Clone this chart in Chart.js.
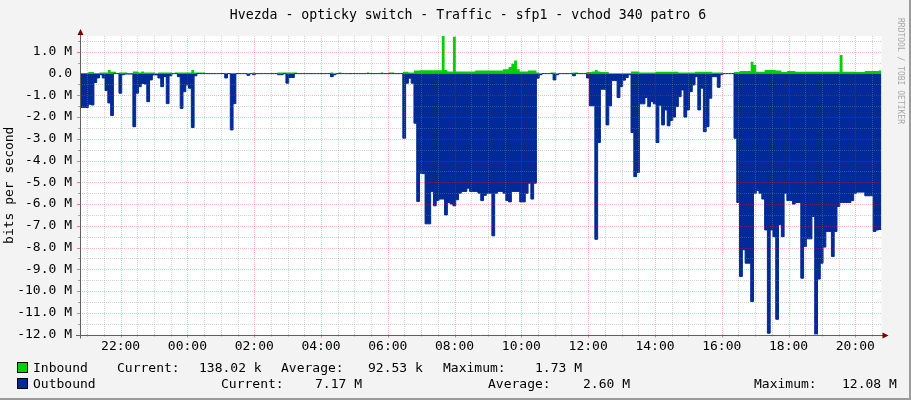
<!DOCTYPE html>
<html>
<head>
<meta charset="utf-8">
<title>Hvezda - opticky switch - Traffic</title>
<script src="https://cdn.jsdelivr.net/npm/chart.js@4/dist/chart.umd.min.js"></script>
<style>
  html, body { margin: 0; padding: 0; background: #f3f3f3; }
  #graph { display: block; }
</style>
</head>
<body>
<canvas id="graph" width="911" height="400"></canvas>
<script>
// 5 minute samples, in Mbit/s
const startTime = '20:47';
const sampleMinutes = 5;

const inboundMbps = [
  0.03, 0.03, 0.03, 0.07, 0.07, 0.02, 0.02, 0.05, 0.05, 0.05, 0.17, 0.08,
  0.08, 0.02, 0.05, 0.05, 0.05, 0, 0, 0.1, 0.1, 0.05, 0.1, 0.05,
  0.05, 0.05, 0.05, 0, 0.05, 0.05, 0.05, 0.05, 0.05, 0, 0.05, 0.05,
  0.05, 0.05, 0.05, 0.05, 0.17, 0.05, 0.05, 0.05, 0.05, 0, 0, 0,
  0, 0, 0, 0.03, 0.03, 0.03, 0.03, 0.03, 0.03, 0, 0, 0,
  0, 0, 0.05, 0, 0, 0, 0, 0, 0, 0, 0, 0.05,
  0.05, 0.05, 0.05, 0.05, 0.05, 0.05, 0, 0, 0, 0, 0, 0,
  0, 0, 0, 0, 0, 0, 0.05, 0, 0, 0.05, 0, 0,
  0, 0, 0, 0, 0, 0, 0, 0.05, 0, 0, 0, 0,
  0.05, 0, 0, 0.05, 0.05, 0, 0, 0, 0.09, 0.09, 0.05, 0.05,
  0.14, 0.14, 0.15, 0.15, 0.15, 0.15, 0.15, 0.15, 0.15, 0.15, 1.73, 0.17,
  0.1, 0.1, 1.7, 0.1, 0.1, 0.1, 0.1, 0.1, 0.1, 0.1, 0.14, 0.14,
  0.14, 0.14, 0.14, 0.14, 0.14, 0.14, 0.14, 0.14, 0.2, 0.2, 0.3, 0.45,
  0.6, 0.2, 0.1, 0.1, 0.1, 0.14, 0.14, 0.14, 0.05, 0, 0, 0,
  0, 0.05, 0.05, 0, 0, 0, 0, 0, 0, 0.05, 0.05, 0,
  0, 0, 0.07, 0.07, 0.1, 0.17, 0.1, 0.07, 0.07, 0.07, 0, 0,
  0, 0, 0, 0, 0, 0, 0.1, 0.1, 0.1, 0.05, 0.05, 0.05,
  0.05, 0.05, 0.05, 0.09, 0.09, 0.09, 0.09, 0.09, 0.09, 0.09, 0.09, 0.05,
  0.05, 0.05, 0.05, 0.05, 0.05, 0.09, 0.09, 0.09, 0.09, 0.09, 0.09, 0.05,
  0.05, 0.05, 0.05, 0, 0, 0, 0, 0.07, 0.07, 0.12, 0.12, 0.12,
  0.12, 0.55, 0.4, 0.09, 0.09, 0.09, 0.17, 0.17, 0.17, 0.17, 0.14, 0.14,
  0.07, 0.07, 0.12, 0.12, 0.12, 0.09, 0.09, 0.09, 0.09, 0.09, 0.09, 0.09,
  0.09, 0.09, 0.09, 0.09, 0.09, 0.09, 0.09, 0.09, 0.09, 0.86, 0.09, 0.09,
  0.09, 0.09, 0.09, 0.07, 0.07, 0.07, 0.12, 0.12, 0.12, 0.12, 0.12, 0.138
];

const outboundMbps = [
  1.56, 1.56, 1.56, 1.41, 1.44, 0.41, 0.2, 0.05, 0.2, 0.78, 1.35, 1.93,
  0, 0, 0.9, 0.05, 0.02, 0.02, 0.02, 2.44, 0.9, 0.6, 0.45, 0.48,
  1.29, 0.29, 0.06, 0.06, 0.2, 0.6, 0.14, 1.38, 0.1, 0, 0, 0.14,
  1.6, 0.83, 0.52, 0.67, 2.48, 0.1, 0, 0, 0, 0, 0, 0,
  0, 0, 0, 0, 0.2, 0, 2.59, 1.38, 0, 0, 0, 0,
  0.08, 0, 0.05, 0, 0, 0, 0, 0, 0, 0, 0, 0.05,
  0.05, 0, 0.44, 0.18, 0.18, 0, 0, 0, 0, 0, 0, 0,
  0, 0, 0, 0, 0, 0, 0.14, 0.05, 0, 0, 0, 0,
  0, 0, 0, 0, 0, 0, 0, 0, 0, 0, 0, 0,
  0, 0, 0, 0, 0, 0, 0, 0, 2.97, 0.44, 0.21, 0.44,
  2.28, 5.88, 4.58, 4.6, 6.91, 6.91, 5.42, 6.08, 5.84, 5.77, 5.77, 6.5,
  5.93, 6.0, 6.08, 5.8, 5.5, 5.42, 5.42, 5.27, 5.42, 5.42, 5.42, 5.5,
  5.84, 5.6, 5.5, 5.5, 7.46, 5.5, 5.42, 5.42, 5.5, 5.84, 5.9, 5.42,
  5.42, 5.42, 5.9, 5.9, 5.5, 5.04, 5.77, 5.04, 0.21, 0.05, 0, 0,
  0, 0, 0.29, 0.05, 0, 0, 0, 0, 0, 0.1, 0, 0,
  0, 0, 0.2, 1.48, 1.48, 7.62, 3.17, 0.72, 0.72, 2.36, 1.48, 0.32,
  0.32, 1.1, 0.6, 0.3, 0.18, 0.05, 2.71, 4.74, 4.55, 1.39, 1.39, 1.1,
  1.52, 1.29, 1.39, 3.17, 1.45, 2.36, 1.67, 2.4, 2.16, 2.0, 1.52, 1.06,
  0.75, 2.0, 1.67, 0.83, 0.52, 0.14, 1.67, 0.67, 2.67, 2.44, 1.13, 0.14,
  0.14, 0.63, 0.05, 0, 0, 0, 0, 2.97, 5.93, 9.33, 8.1, 8.72,
  8.72, 10.48, 5.5, 5.38, 5.5, 5.77, 7.19, 11.94, 7.19, 7.5, 11.3, 6.95,
  7.5, 5.5, 5.84, 5.84, 6.0, 5.93, 5.93, 9.41, 7.95, 7.6, 7.6, 6.57,
  12.08, 9.45, 8.72, 7.98, 7.26, 7.26, 8.41, 7.26, 6.11, 5.93, 5.93, 5.93,
  5.93, 5.84, 5.5, 5.45, 5.45, 5.45, 5.62, 5.62, 5.62, 7.26, 7.19, 7.17
];

const timeLabels = ['22:00', '00:00', '02:00', '04:00', '06:00', '08:00',
  '10:00', '12:00', '14:00', '16:00', '18:00', '20:00'];
const valueTicks = [1, 0, -1, -2, -3, -4, -5, -6, -7, -8, -9, -10, -11, -12];

const inboundLegend = ['Inbound', 'Current:', '138.02 k', 'Average:', '92.53 k', 'Maximum:', '1.73 M'];
const outboundLegend = ['Outbound', 'Current:', '7.17 M', 'Average:', '2.60 M', 'Maximum:', '12.08 M'];

const titleText = 'Hvezda - opticky switch - Traffic - sfp1 - vchod 340 patro 6';
const axisTitle = 'bits per second';
const watermark = 'RRDTOOL / TOBI OETIKER';

const FONT = '"DejaVu Sans Mono", monospace';
const IN_COLOR = '#00cf00';
const OUT_COLOR = '#002a97';

function toMinutes(hhmm) {
  const parts = hhmm.split(':');
  return parseInt(parts[0], 10) * 60 + parseInt(parts[1], 10);
}

const startMin = toMinutes(startTime);
const endMin = startMin + inboundMbps.length * sampleMinutes;

function clockPos(label) {
  let m = toMinutes(label);
  if (m < startMin) m += 1440;
  return m;
}

function toPoints(values, sign) {
  const pts = values.map((v, i) => ({ x: startMin + i * sampleMinutes, y: sign * v }));
  // last sample is held until the right edge
  pts.push({ x: endMin, y: sign * values[values.length - 1] });
  return pts;
}

function dotted(ctx, x1, y1, x2, y2, color) {
  ctx.strokeStyle = color;
  ctx.setLineDash([1, 1]);
  ctx.beginPath();
  ctx.moveTo(x1, y1);
  ctx.lineTo(x2, y2);
  ctx.stroke();
}

function solid(ctx, x1, y1, x2, y2, color) {
  ctx.strokeStyle = color;
  ctx.setLineDash([]);
  ctx.beginPath();
  ctx.moveTo(x1, y1);
  ctx.lineTo(x2, y2);
  ctx.stroke();
}

const rrdFrame = {
  id: 'rrdFrame',
  beforeDraw(chart) {
    const ctx = chart.ctx;
    const a = chart.chartArea;
    ctx.save();
    ctx.fillStyle = '#f3f3f3';
    ctx.fillRect(0, 0, chart.width, chart.height);
    ctx.fillStyle = '#9b9b9b';
    ctx.fillRect(chart.width - 2, 0, 2, chart.height);
    ctx.fillRect(0, chart.height - 2, chart.width, 2);
    ctx.fillStyle = '#ffffff';
    ctx.fillRect(a.left, a.top, a.right - a.left, a.bottom - a.top);
    ctx.restore();
  },
  afterDatasetsDraw(chart) {
    const ctx = chart.ctx;
    const a = chart.chartArea;
    const xs = chart.scales.x;
    const ys = chart.scales.y;
    const minorCol = 'rgba(140,140,140,0.38)';
    const majorCol = 'rgba(240,40,40,0.32)';
    ctx.save();
    ctx.lineWidth = 1;

    // vertical grid, every 30 minutes, major every 2 hours
    for (let m = Math.ceil(xs.min / 30) * 30; m <= xs.max; m += 30) {
      const px = Math.round(xs.getPixelForValue(m)) + 0.5;
      const major = m % 120 === 0;
      dotted(ctx, px, a.top, px, a.bottom, major ? majorCol : minorCol);
      solid(ctx, px, a.bottom, px, a.bottom + (major ? 3 : 2), major ? '#e08080' : '#a0a0a0');
    }
    // horizontal grid, every 0.5 M, major every 1 M
    for (let k = Math.ceil(ys.min * 2); k <= Math.floor(ys.max * 2); k++) {
      const py = Math.round(ys.getPixelForValue(k / 2)) + 0.5;
      const major = k % 2 === 0;
      if (k === 0) continue;
      dotted(ctx, a.left, py, a.right, py, major ? majorCol : minorCol);
      solid(ctx, a.left - (major ? 3 : 2), py, a.left, py, major ? '#e08080' : '#a0a0a0');
    }

    // axes with arrows
    const bx = a.left + 0.5;
    const by = Math.round(a.bottom) + 0.5;
    solid(ctx, a.left - 4, by, a.right + 3, by, '#606060');
    solid(ctx, bx, by + 3, bx, a.top - 3, '#606060');
    ctx.fillStyle = '#7f0000';
    ctx.beginPath();
    ctx.moveTo(a.right + 7, by);
    ctx.lineTo(a.right + 1, by - 3);
    ctx.lineTo(a.right + 1, by + 3);
    ctx.closePath();
    ctx.fill();
    ctx.beginPath();
    ctx.moveTo(bx, a.top - 7);
    ctx.lineTo(bx - 3, a.top - 1);
    ctx.lineTo(bx + 3, a.top - 1);
    ctx.closePath();
    ctx.fill();
    ctx.restore();
  },
  afterDraw(chart) {
    const ctx = chart.ctx;
    ctx.save();
    ctx.fillStyle = '#000000';
    ctx.font = '13.2px ' + FONT;
    ctx.textBaseline = 'alphabetic';
    ctx.textAlign = 'center';
    ctx.fillText(titleText, 468, 19);

    // legend
    ctx.font = '13px ' + FONT;
    ctx.textAlign = 'left';
    const rows = [
      { items: inboundLegend, color: IN_COLOR, y: 372, cols: [33, 117, 199, 281, 368, 443, 535] },
      { items: outboundLegend, color: OUT_COLOR, y: 388, cols: [33, 221, 315, 488, 583, 754, 842] }
    ];
    rows.forEach(row => {
      ctx.fillStyle = row.color;
      ctx.fillRect(17, row.y - 10, 10, 10);
      ctx.strokeStyle = '#000000';
      ctx.lineWidth = 1;
      ctx.strokeRect(17.5, row.y - 9.5, 10, 10);
      ctx.fillStyle = '#000000';
      row.items.forEach((txt, i) => ctx.fillText(txt, row.cols[i], row.y));
    });

    // vertical credit on the right side
    ctx.translate(900, 18);
    ctx.rotate(Math.PI / 2);
    ctx.font = '8px ' + FONT;
    ctx.fillStyle = '#a8a8a8';
    ctx.textBaseline = 'middle';
    ctx.fillText(watermark, 0, 0);
    ctx.restore();
  }
};

Chart.defaults.font.family = FONT;
Chart.defaults.font.size = 13;
Chart.defaults.color = '#000000';

const chart = new Chart(document.getElementById('graph'), {
  type: 'line',
  data: {
    datasets: [
      {
        label: 'Outbound',
        data: toPoints(outboundMbps, -1),
        borderColor: OUT_COLOR,
        backgroundColor: OUT_COLOR,
        borderWidth: 1,
        fill: 'origin',
        stepped: true,
        pointRadius: 0
      },
      {
        label: 'Inbound',
        data: toPoints(inboundMbps, 1),
        borderColor: IN_COLOR,
        backgroundColor: IN_COLOR,
        borderWidth: 0,
        fill: 'origin',
        stepped: true,
        pointRadius: 0
      }
    ]
  },
  options: {
    responsive: false,
    animation: false,
    devicePixelRatio: 1,
    layout: { padding: { left: 0, right: 29.5, top: 36, bottom: 0 } },
    plugins: {
      legend: { display: false },
      tooltip: { enabled: false },
      title: { display: false }
    },
    scales: {
      x: {
        type: 'linear',
        min: startMin,
        max: endMin,
        grid: { display: false, drawTicks: false },
        border: { display: false },
        ticks: {
          padding: 4,
          maxRotation: 0,
          autoSkip: false,
          callback: function (value) {
            const m = ((value % 1440) + 1440) % 1440;
            const h = Math.floor(m / 60);
            const mm = m % 60;
            return String(h).padStart(2, '0') + ':' + String(mm).padStart(2, '0');
          }
        },
        afterBuildTicks: function (scale) {
          scale.ticks = timeLabels.map(l => ({ value: clockPos(l) }));
        },
        afterFit: function (scale) { scale.height = 65.5; }
      },
      y: {
        min: -12,
        max: 1.73,
        grid: { display: false, drawTicks: false },
        border: { display: false },
        title: { display: true, text: axisTitle, padding: 2 },
        ticks: {
          padding: 8,
          callback: function (value) {
            return value === 0 ? '0.0' : value.toFixed(1) + ' M';
          }
        },
        afterBuildTicks: function (scale) {
          scale.ticks = valueTicks.map(v => ({ value: v }));
        },
        afterFit: function (scale) { scale.width = 80; }
      }
    }
  },
  plugins: [rrdFrame]
});
</script>
</body>
</html>
